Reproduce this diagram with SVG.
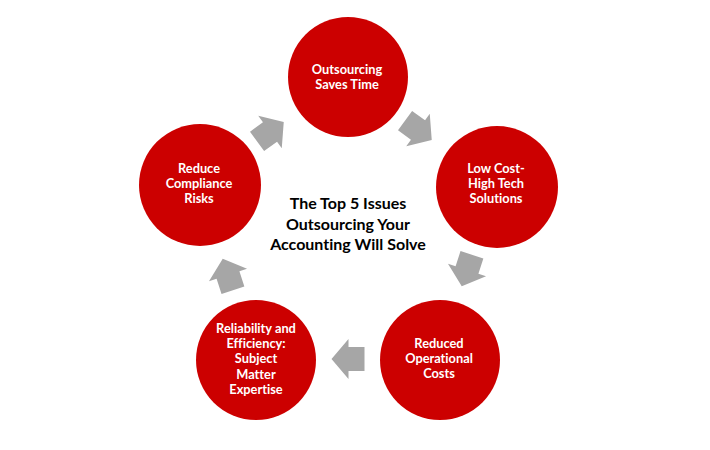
<svg xmlns="http://www.w3.org/2000/svg" width="710" height="450" viewBox="0 0 710 450">
<defs>
<style>
.c{fill:#cc0000}
.t{font-family:Lato,"Liberation Sans",sans-serif;font-weight:bold;font-size:12.8px;fill:#ffffff;text-anchor:middle;font-variant-ligatures:none}
.m{font-family:Lato,"Liberation Sans",sans-serif;font-weight:bold;font-size:16px;fill:#000000;text-anchor:middle;font-variant-ligatures:none}
.a{fill:#a6a6a6}
</style>
<polygon id="arr" points="-16,-12 0,-12 0,-20 17,0 0,20 0,12 -16,12"/>
</defs>
<rect width="710" height="450" fill="#ffffff"/>
<g id="connectors" class="a">
<use href="#arr" transform="translate(270,132) rotate(-36)"/>
<use href="#arr" transform="translate(418,130) rotate(36)"/>
<use href="#arr" transform="translate(467,270) rotate(108)"/>
<use href="#arr" transform="translate(348.5,359) rotate(180)"/>
<use href="#arr" transform="translate(228,275) rotate(252)"/>
</g>
<g id="n1"><circle class="c" cx="348" cy="77" r="60"/>
<text class="t" x="347" y="74">Outsourcing</text><text class="t" x="347" y="89">Saves Time</text></g>
<g id="n2"><circle class="c" cx="497" cy="187" r="61"/>
<text class="t" x="496" y="173">Low Cost-</text><text class="t" x="496" y="188">High Tech</text><text class="t" x="496" y="203">Solutions</text></g>
<g id="n3"><circle class="c" cx="440" cy="360" r="60"/>
<text class="t" x="439" y="348">Reduced</text><text class="t" x="439" y="363">Operational</text><text class="t" x="439" y="378">Costs</text></g>
<g id="n4"><circle class="c" cx="256" cy="360" r="60"/>
<text class="t" x="256" y="333">Reliability and</text><text class="t" x="256" y="348">Efficiency:</text><text class="t" x="256" y="363">Subject</text><text class="t" x="256" y="379">Matter</text><text class="t" x="256" y="394">Expertise</text></g>
<g id="n5"><circle class="c" cx="200" cy="185" r="61"/>
<text class="t" x="199" y="173">Reduce</text><text class="t" x="199" y="188">Compliance</text><text class="t" x="199" y="203">Risks</text></g>
<g id="title">
<text class="m" x="348" y="209">The Top 5 Issues</text>
<text class="m" x="348" y="230">Outsourcing Your</text>
<text class="m" x="348" y="250">Accounting Will Solve</text>
</g>
</svg>
